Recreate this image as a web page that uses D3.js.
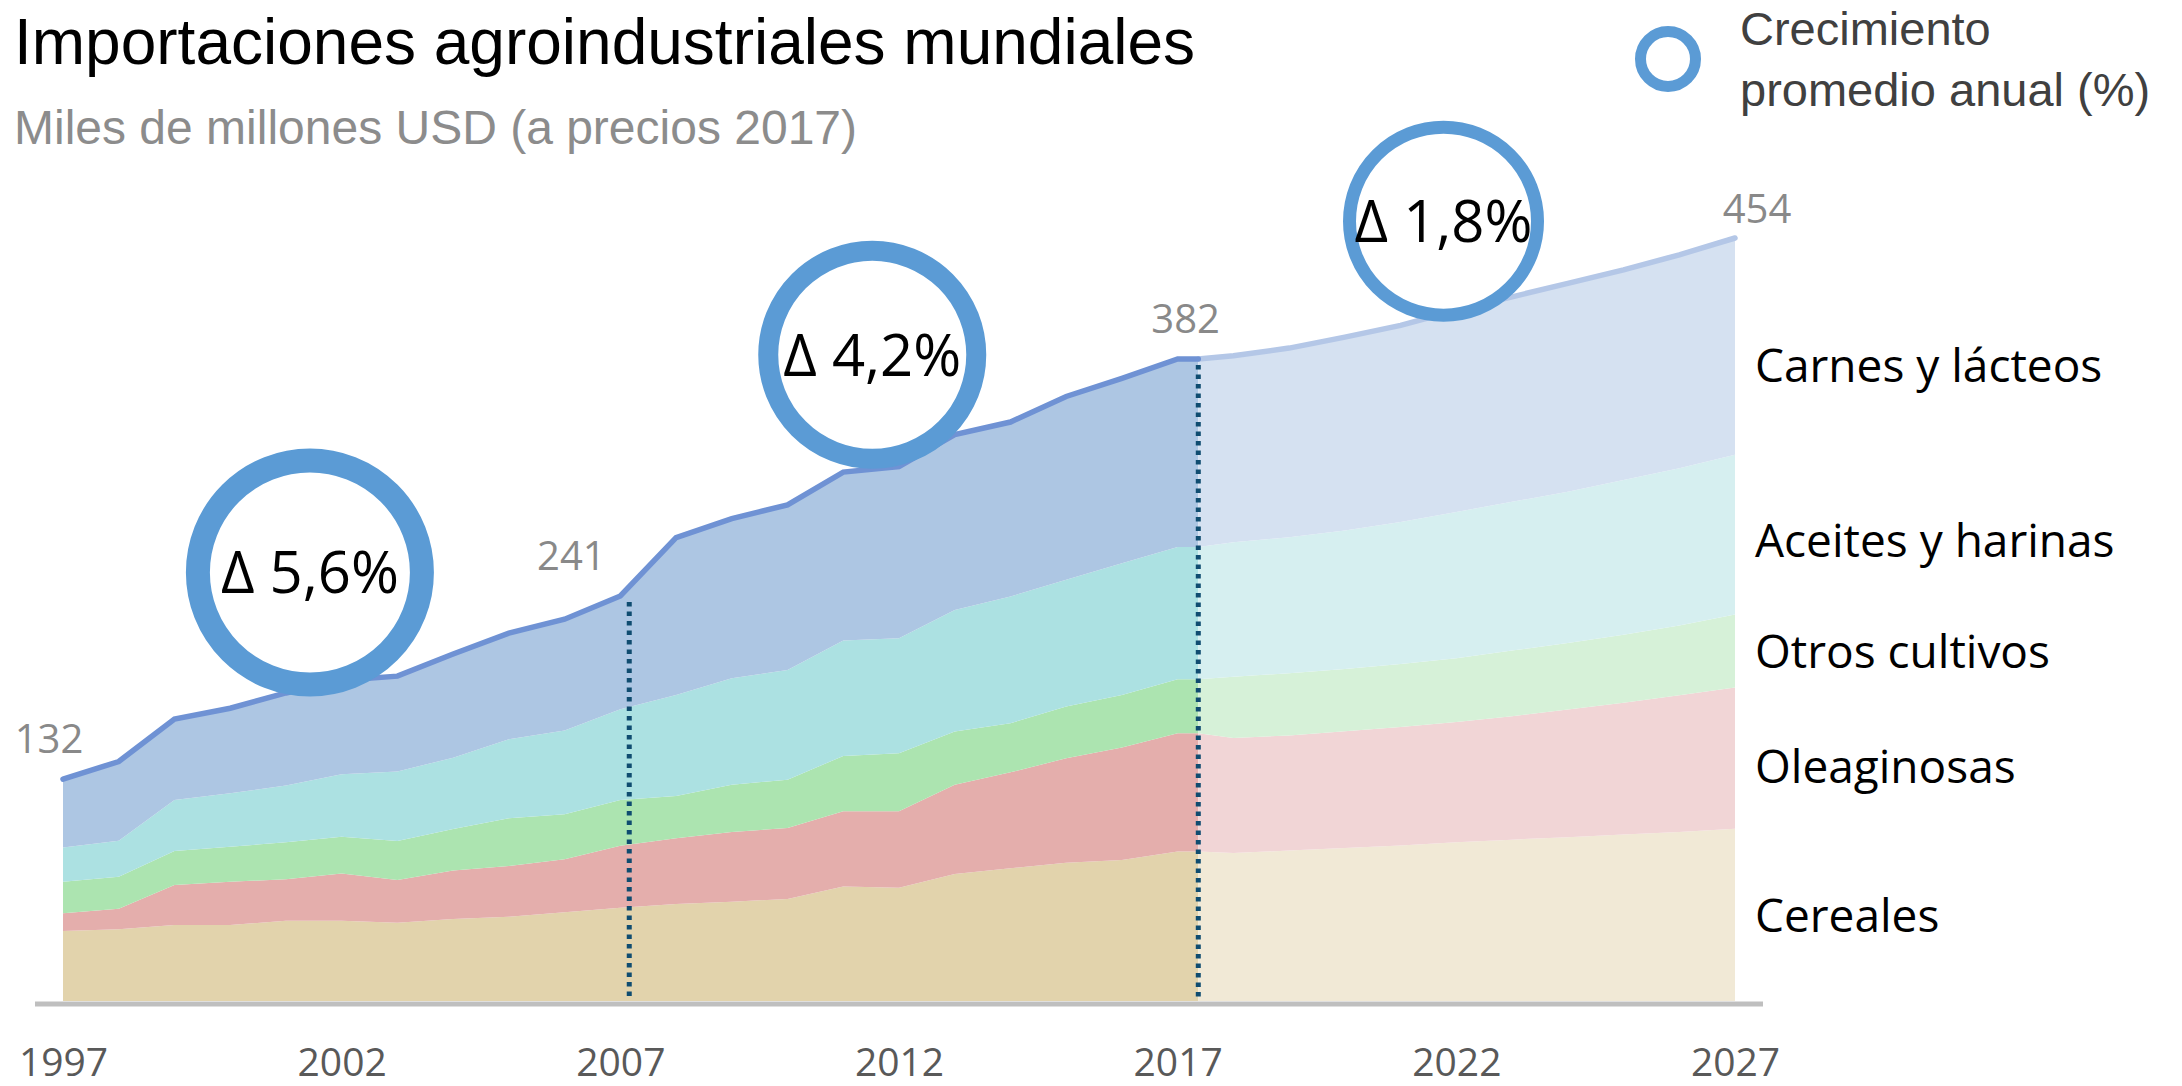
<!DOCTYPE html>
<html>
<head>
<meta charset="utf-8">
<script src="https://cdn.jsdelivr.net/npm/d3@7"></script>
<style>
  body { margin: 0; background: #fff; }
  svg { display: block; }
</style>
</head>
<body>
<div id="chart"></div>
<script>
// historical years and projection years
const histYears = d3.range(1997, 2018);
const projYears = d3.range(2018, 2028);
const tickYears = [1997, 2002, 2007, 2012, 2017, 2022, 2027];

// miles de millones USD
const cereales       = [41.7, 42.7, 45.2, 45.2, 47.8, 47.8, 46.6, 48.8, 50.2, 52.8, 55.5, 57.7, 59.1, 60.7, 68.2, 67.4, 75.6, 79.0, 82.3, 83.9, 88.9];
const oleaginosas    = [10.5, 12.2, 23.8, 25.8, 24.6, 28.0, 25.4, 28.8, 30.2, 31.5, 36.9, 39.1, 41.4, 42.3, 44.7, 45.5, 53.0, 57.1, 62.1, 66.9, 70.4];
const otrosCultivos  = [18.8, 19.1, 20.3, 20.8, 22.0, 22.0, 23.2, 24.8, 28.4, 26.8, 27.2, 25.2, 28.1, 28.7, 32.9, 34.5, 31.7, 29.2, 30.8, 31.3, 32.2];
const aceitesHarinas = [20.3, 21.4, 30.3, 31.8, 33.8, 37.1, 41.3, 42.4, 47.0, 49.8, 54.0, 60.1, 63.5, 65.3, 68.7, 68.5, 72.4, 75.4, 75.4, 78.4, 78.7];
const carnesLacteos  = [40.7, 47.1, 48.1, 50.6, 55.1, 55.9, 56.8, 61.7, 63.1, 66.3, 67.4, 93.6, 94.9, 98.2, 100.2, 102.1, 104.3, 103.8, 109.1, 110.0, 111.8];

// projections 2018-2027
const cerealesProj       = [88, 89.5, 91, 92.5, 94.5, 96, 97.5, 99, 100.5, 102.5];
const oleaginosasProj    = [68.5, 68.5, 69.5, 70.5, 71.5, 73.5, 76, 78.5, 81.5, 84];
const otrosCultivosProj  = [36.5, 37, 37, 37.5, 38, 39, 39.5, 40.5, 41.5, 43.5];
const aceitesHarinasProj = [80, 81, 82.5, 84.5, 87, 88.5, 90, 92, 93.5, 95];
const carnesLacteosProj  = [111, 112.5, 115, 117, 120, 122, 124, 125, 127, 129];

const keys = ["Cereales", "Oleaginosas", "Otros cultivos", "Aceites y harinas", "Carnes y lácteos"];
const histColors = ["#e2d3ac", "#e4aeac", "#ace4b0", "#ace1e2", "#adc6e3"];
const projColors = ["#f1e9d6", "#f1d5d6", "#d6f1d8", "#d6eff0", "#d5e1f1"];
const labelNudge = [0, 8, 0, 5, 19];

// dotted separators (2007 and start of projection)
const dividerYears = [2007.16, 2017.37];
const labelYears = [1997, 2007, 2017, 2027];
const labelDx = [-14, -49, 8, 22];
const labelDy = [-26, -26, -26, -15];

const growth = [
  {text: "Δ 5,6%", year: 2001.43, value: 255, r: 112, w: 24},
  {text: "Δ 4,2%", year: 2011.52, value: 384.5, r: 104, w: 20},
  {text: "Δ 1,8%", year: 2021.77, value: 464, r: 94, w: 13}
];

const width = 2182, height = 1086;
const svg = d3.select("#chart").append("svg")
    .attr("width", width)
    .attr("height", height);

const x = d3.scaleLinear().domain([1997, 2027]).range([63, 1735]);
const y = d3.scaleLinear().domain([0, 454]).range([1001, 238]);

function row(year, vals) {
    const r = {year: year};
    keys.forEach((k, j) => r[k] = vals[j]);
    return r;
}
const histSeries = [cereales, oleaginosas, otrosCultivos, aceitesHarinas, carnesLacteos];
const projSeries = [cerealesProj, oleaginosasProj, otrosCultivosProj, aceitesHarinasProj, carnesLacteosProj];

const histRows = histYears.map((yr, i) => row(yr, histSeries.map(s => s[i])));
const last = histSeries.map(s => s[s.length - 1]);
const splitYear = dividerYears[1];
histRows.push(row(splitYear, last));
const projRows = [row(splitYear, last)].concat(projYears.map((yr, i) => row(yr, projSeries.map(s => s[i]))));

const stack = d3.stack().keys(keys);
const area = d3.area()
    .x(d => x(d.data.year))
    .y0(d => y(d[0]))
    .y1(d => y(d[1]));

// axis baseline
svg.append("line")
    .attr("x1", x(1997) - 28).attr("x2", x(2027) + 28)
    .attr("y1", y(0) + 3).attr("y2", y(0) + 3)
    .attr("stroke", "#bfbfbf")
    .attr("stroke-width", 5);

svg.append("g").selectAll("path")
    .data(stack(histRows))
    .enter().append("path")
    .attr("d", area)
    .attr("fill", (d, i) => histColors[i]);

svg.append("g").selectAll("path")
    .data(stack(projRows))
    .enter().append("path")
    .attr("d", area)
    .attr("fill", (d, i) => projColors[i]);

const total = r => d3.sum(keys, k => r[k]);
const line = d3.line()
    .x(d => x(d.year))
    .y(d => y(total(d)));

svg.append("path")
    .datum(projRows)
    .attr("d", line)
    .attr("fill", "none")
    .attr("stroke", "#b4c7e7")
    .attr("stroke-width", 5.5)
    .attr("stroke-linecap", "round");

svg.append("path")
    .datum(histRows)
    .attr("d", line)
    .attr("fill", "none")
    .attr("stroke", "#6f92d4")
    .attr("stroke-width", 5.5)
    .attr("stroke-linecap", "round");

// dotted separators
const allRows = histRows.concat(projRows);
svg.selectAll(".divider")
    .data(dividerYears)
    .enter().append("line")
    .attr("class", "divider")
    .attr("x1", d => x(d)).attr("x2", d => x(d))
    .attr("y1", d => {
        const yr = Math.floor(d);
        const r = allRows.find(r => r.year === yr);
        return y(total(r)) + 6;
    })
    .attr("y2", y(0) - 4)
    .attr("stroke", "#0f4c70")
    .attr("stroke-width", 5)
    .attr("stroke-dasharray", "4.5,5");

// total value labels
svg.selectAll(".total")
    .data(labelYears)
    .enter().append("text")
    .attr("class", "total")
    .attr("x", (d, i) => x(d) + labelDx[i])
    .attr("y", (d, i) => y(total(allRows.find(r => r.year === d))) + labelDy[i])
    .attr("text-anchor", "middle")
    .style("font-family", "'Open Sans', sans-serif")
    .style("font-size", "40px")
    .style("fill", "#898989")
    .text(d => Math.round(total(allRows.find(r => r.year === d))));

// growth circles
const g = svg.selectAll(".growth")
    .data(growth)
    .enter().append("g")
    .attr("class", "growth")
    .attr("transform", d => `translate(${x(d.year)},${y(d.value)})`);

g.append("circle")
    .attr("r", d => d.r)
    .attr("fill", "#fff")
    .attr("stroke", "#5b9bd5")
    .attr("stroke-width", d => d.w);

g.append("text")
    .attr("y", 21)
    .attr("text-anchor", "middle")
    .style("font-family", "'Open Sans', sans-serif")
    .style("font-size", "58px")
    .style("fill", "#000")
    .text(d => d.text);

// series labels on the right, near the middle of each band in 2027
const lastStack = stack([projRows[projRows.length - 1]]);
svg.selectAll(".serie")
    .data(lastStack)
    .enter().append("text")
    .attr("class", "serie")
    .attr("x", x(2027) + 20)
    .attr("y", (d, i) => y((d[0][0] + d[0][1]) / 2) + 17 + labelNudge[i])
    .style("font-family", "'Open Sans', sans-serif")
    .style("font-size", "46px")
    .style("fill", "#000")
    .text(d => d.key);

// x axis
const axis = svg.append("g")
    .attr("transform", `translate(0,${y(0) + 3})`)
    .call(d3.axisBottom(x).tickValues(tickYears).tickFormat(d3.format("d")).tickSize(0).tickPadding(44));
axis.select(".domain").remove();
axis.selectAll("text")
    .style("font-family", "'Open Sans', sans-serif")
    .style("font-size", "39px")
    .style("fill", "#595959");

// titles
svg.append("text")
    .attr("x", 14).attr("y", 64)
    .style("font-family", "'Liberation Sans', Arial, sans-serif")
    .style("font-size", "64px")
    .style("fill", "#000")
    .text("Importaciones agroindustriales mundiales");

svg.append("text")
    .attr("x", 14).attr("y", 144)
    .style("font-family", "'Liberation Sans', Arial, sans-serif")
    .style("font-size", "48px")
    .style("fill", "#8c8c8c")
    .text("Miles de millones USD (a precios 2017)");

// legend
svg.append("circle")
    .attr("cx", 1668).attr("cy", 59)
    .attr("r", 27.5)
    .attr("fill", "none")
    .attr("stroke", "#5b9bd5")
    .attr("stroke-width", 11);

const legendText = svg.append("text")
    .style("font-family", "'Liberation Sans', Arial, sans-serif")
    .style("font-size", "47px")
    .style("fill", "#404040");
legendText.append("tspan").attr("x", 1740).attr("y", 45).text("Crecimiento");
legendText.append("tspan").attr("x", 1740).attr("y", 106).text("promedio anual (%)");
</script>
</body>
</html>
